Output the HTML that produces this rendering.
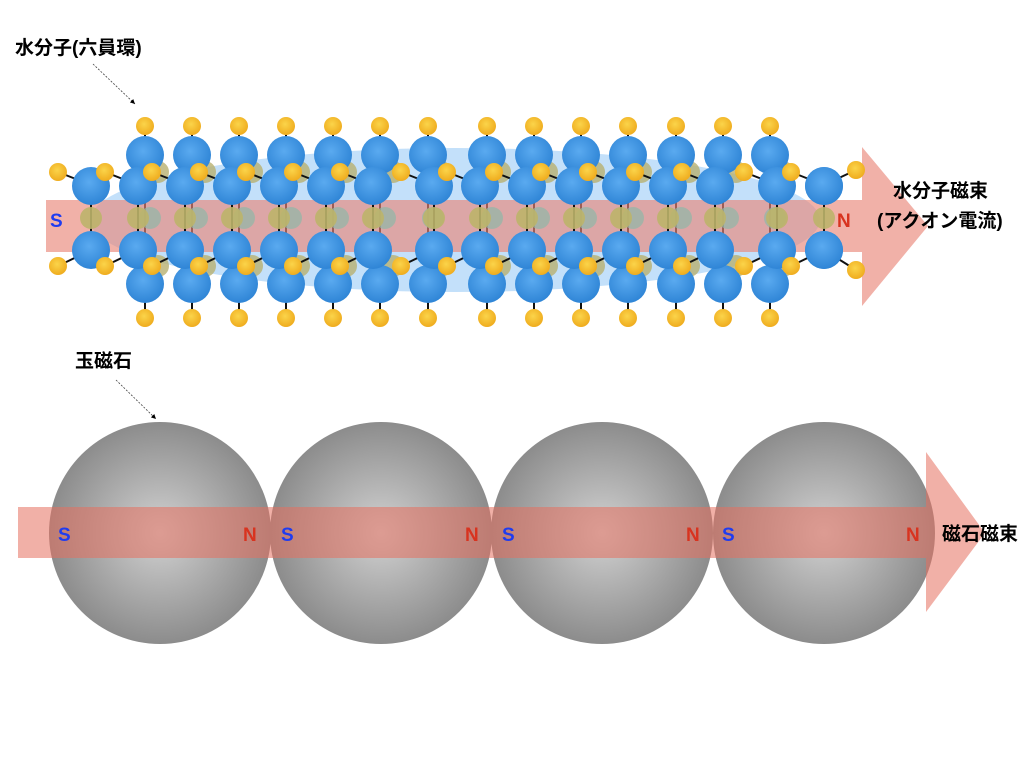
<!DOCTYPE html>
<html><head><meta charset="utf-8"><style>
html,body{margin:0;padding:0;background:#fff;width:1024px;height:768px;overflow:hidden}
svg{display:block}
text{font-family:"Liberation Sans","Noto Sans CJK JP",sans-serif;font-weight:bold}
</style></head><body>
<svg id="s" width="1024" height="768" viewBox="0 0 1024 768" xmlns="http://www.w3.org/2000/svg">
<defs>
<radialGradient id="bl" cx="45%" cy="40%" r="60%"><stop offset="0" stop-color="#5aaaf0"/><stop offset="1" stop-color="#2f85d6"/></radialGradient>
<radialGradient id="yl" cx="45%" cy="40%" r="60%"><stop offset="0" stop-color="#fbd44a"/><stop offset="1" stop-color="#efac1e"/></radialGradient>
<radialGradient id="gr" cx="50%" cy="50%" r="50%"><stop offset="0" stop-color="#d2d2d2"/><stop offset="1" stop-color="#8c8c8c"/></radialGradient>
<marker id="ah" markerWidth="8" markerHeight="8" refX="6" refY="3" orient="auto"><path d="M0,0 L6,3 L0,6z" fill="#000"/></marker>
</defs>
<g id="top"></g>
<circle cx="160" cy="533" r="111" fill="url(#gr)"/>
<circle cx="381" cy="533" r="111" fill="url(#gr)"/>
<circle cx="602" cy="533" r="111" fill="url(#gr)"/>
<circle cx="824" cy="533" r="111" fill="url(#gr)"/>
<path d="M18,507 H926 V452 L985,533 L926,612 V558 H18z" fill="#e56f5e" fill-opacity="0.55"/>
<g font-size="19">
<text x="58" y="541" fill="#1f3cf0">S</text><text x="243" y="541" fill="#d8331f">N</text>
<text x="281" y="541" fill="#1f3cf0">S</text><text x="465" y="541" fill="#d8331f">N</text>
<text x="502" y="541" fill="#1f3cf0">S</text><text x="686" y="541" fill="#d8331f">N</text>
<text x="722" y="541" fill="#1f3cf0">S</text><text x="906" y="541" fill="#d8331f">N</text>
</g>
<text x="942" y="540" font-size="19">磁石磁束</text>
<text x="75" y="367" font-size="19">玉磁石</text>
<line x1="116" y1="380" x2="156" y2="419" stroke="#444" stroke-width="0.8" stroke-dasharray="2,1.5" marker-end="url(#ah)"/>
<text x="15" y="54" font-size="19">水分子(六員環)</text>
<line x1="93" y1="64" x2="135" y2="104" stroke="#444" stroke-width="0.8" stroke-dasharray="2,1.5" marker-end="url(#ah)"/>
<text x="893" y="197" font-size="19">水分子磁束</text>
<text x="877" y="227" font-size="19">(アクオン電流)</text>
</svg>
<script>
var g=document.getElementById('top'),h='';
h+='<ellipse cx="455" cy="220" rx="365" ry="72" fill="#a9d3f8" fill-opacity="0.7"/>';
var B=[145,192,239,286,333,380,428,487,534,581,628,676,723,770];
var F=[91,138,185,232,279,326,373,434,480,527,574,621,668,715,777,824];
B.forEach(function(x){
 h+='<line x1="'+x+'" y1="126" x2="'+x+'" y2="318" stroke="#111" stroke-width="2"/>';
 h+='<circle cx="'+(x+13)+'" cy="172" r="11" fill="#b8b070" fill-opacity="0.8"/>';
 h+='<circle cx="'+(x+13)+'" cy="266" r="11" fill="#b8b070" fill-opacity="0.8"/>';
});
h+='<path d="M46,200 H862 V147 L928,226 L862,306 V252 H46z" fill="#e9877a" fill-opacity="0.65"/>';
h+='<text x="50" y="227" font-size="19" fill="#1f3cf0">S</text><text x="837" y="227" font-size="19" fill="#d8331f">N</text>';
B.forEach(function(x){
 h+='<circle cx="'+x+'" cy="126" r="9" fill="url(#yl)"/><circle cx="'+x+'" cy="318" r="9" fill="url(#yl)"/>';
 h+='<circle cx="'+(x+5)+'" cy="218" r="11" fill="#8fb8a8" fill-opacity="0.7"/>';
 h+='<circle cx="'+x+'" cy="155" r="19" fill="url(#bl)"/><circle cx="'+x+'" cy="284" r="19" fill="url(#bl)"/>';
});
F.forEach(function(x){
 var y=x-33;
 h+='<line x1="'+x+'" y1="185" x2="'+x+'" y2="250" stroke="#111" stroke-width="2"/>';
 h+='<line x1="'+y+'" y1="172" x2="'+x+'" y2="185" stroke="#111" stroke-width="2"/>';
 h+='<line x1="'+y+'" y1="266" x2="'+x+'" y2="250" stroke="#111" stroke-width="2"/>';
 h+='<circle cx="'+x+'" cy="218" r="11" fill="#bdb46a" fill-opacity="0.9"/>';
 h+='<circle cx="'+x+'" cy="186" r="19" fill="url(#bl)"/><circle cx="'+x+'" cy="250" r="19" fill="url(#bl)"/>';
});
F.forEach(function(x){
 var y=x-33;
 h+='<circle cx="'+y+'" cy="172" r="9" fill="url(#yl)"/><circle cx="'+y+'" cy="266" r="9" fill="url(#yl)"/>';
});
h+='<line x1="824" y1="185" x2="856" y2="170" stroke="#111" stroke-width="2"/><line x1="824" y1="250" x2="856" y2="270" stroke="#111" stroke-width="2"/>';
h+='<circle cx="856" cy="170" r="9" fill="url(#yl)"/><circle cx="856" cy="270" r="9" fill="url(#yl)"/>';
h+='<circle cx="824" cy="186" r="19" fill="url(#bl)"/><circle cx="824" cy="250" r="19" fill="url(#bl)"/>';
g.innerHTML=h;
</script>
</body></html>
